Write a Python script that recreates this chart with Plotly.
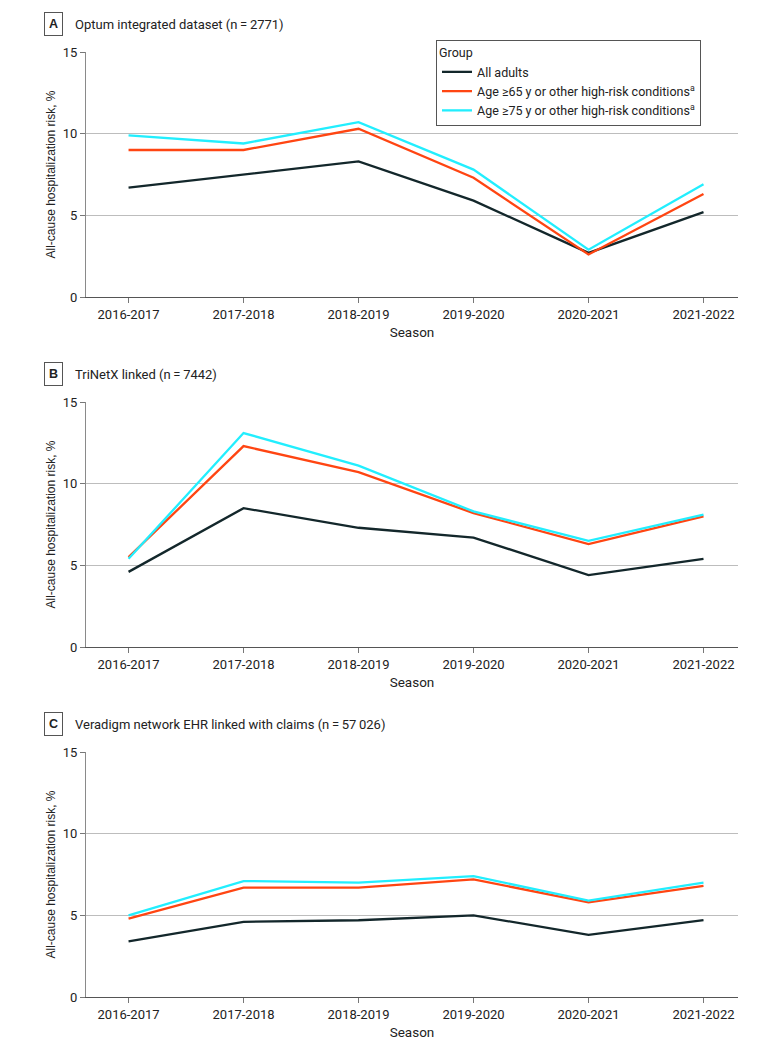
import plotly.graph_objects as go

seasons = ["2016-2017", "2017-2018", "2018-2019", "2019-2020", "2020-2021", "2021-2022"]
group_names = [
    "All adults",
    "Age ≥65 y or other high-risk conditions<sup>a</sup>",
    "Age ≥75 y or other high-risk conditions<sup>a</sup>",
]
colors = ["#13272b", "#ff4512", "#22eefe"]

panel_letters = ["A", "B", "C"]
panel_titles = [
    "Optum integrated dataset (n\u2009=\u20092771)",
    "TriNetX linked (n\u2009=\u20097442)",
    "Veradigm network EHR linked with claims (n\u2009=\u200957\u2009026)",
]

# Panel A
a_all = [6.7, 7.5, 8.3, 5.9, 2.7, 5.2]
a_65 = [9.0, 9.0, 10.3, 7.3, 2.6, 6.3]
a_75 = [9.9, 9.4, 10.7, 7.8, 2.9, 6.9]
# Panel B
b_all = [4.6, 8.5, 7.3, 6.7, 4.4, 5.4]
b_65 = [5.5, 12.3, 10.7, 8.2, 6.3, 8.0]
b_75 = [5.4, 13.1, 11.1, 8.3, 6.5, 8.1]
# Panel C
c_all = [3.4, 4.6, 4.7, 5.0, 3.8, 4.7]
c_65 = [4.8, 6.7, 6.7, 7.2, 5.8, 6.8]
c_75 = [5.0, 7.1, 7.0, 7.4, 5.9, 7.0]

yticks = [0, 5, 10, 15]

panels = [[a_all, a_65, a_75], [b_all, b_65, b_75], [c_all, c_65, c_75]]

# page has an 8px body margin: figure is laid out in page px minus 8
OFF = 8
W, H = 780 - OFF, 1052 - OFF
def px_x(v):
    return (v - OFF) / W
def px_y(v):
    return 1 - (v - OFF) / H

x_dom = [px_x(86), px_x(738)]
plot_px = [(52, 297), (402, 647), (752, 997)]

TICKFONT = "Roboto, sans-serif"
TITLEFONT = "Roboto, sans-serif"
AXTFONT = "Liberation Sans, Arial, sans-serif"
TXT = "#222222"

fig = go.Figure()
layout_axes = {}
annotations = []
for i, series in enumerate(panels):
    n = "" if i == 0 else str(i + 1)
    top, bot = plot_px[i]
    y_dom = [px_y(bot), px_y(top)]
    for k, vals in enumerate(series):
        fig.add_trace(go.Scatter(
            x=list(range(len(seasons))), y=vals, mode="lines",
            name=group_names[k], line=dict(color=colors[k], width=2.3),
            xaxis="x" + n, yaxis="y" + n, showlegend=(i == 0),
            legendgroup=str(k),
        ))
    layout_axes["xaxis" + n] = dict(
        domain=x_dom, anchor="y" + n, range=[-0.37, 5.3],
        tickmode="array", tickvals=list(range(len(seasons))), ticktext=seasons,
        showline=True, linecolor="#555555", linewidth=1.3,
        ticks="outside", ticklen=5, tickcolor="#777777", tickwidth=1,
        showgrid=False, zeroline=False,
        tickfont=dict(family=TICKFONT, size=13, color=TXT),
        title=dict(text="Season", font=dict(family=TICKFONT, size=13.5, color=TXT), standoff=6),
    )
    layout_axes["yaxis" + n] = dict(
        domain=y_dom, anchor="x" + n, range=[0, 15],
        tickmode="array", tickvals=yticks,
        showline=True, linecolor="#8a8a8a", linewidth=1.3,
        ticks="outside", ticklen=5, tickcolor="#777777", tickwidth=1,
        showgrid=True, gridcolor="#bdbdbd", gridwidth=1.2, zeroline=False,
        tickfont=dict(family=TICKFONT, size=13, color=TXT),
        title=dict(text="All-cause hospitalization risk, %", font=dict(family=AXTFONT, size=12, color=TXT), standoff=4),
    )
    title_y = px_y(top - 28)
    annotations.append(dict(
        text="<b>" + panel_letters[i] + "</b>", x=px_x(53), y=title_y, xref="paper", yref="paper",
        xanchor="center", yanchor="middle", showarrow=False,
        font=dict(family="Liberation Sans, Arial, sans-serif", size=12.5, color=TXT),
        bordercolor="#555555", borderwidth=1, borderpad=4, bgcolor="white",
    ))
    annotations.append(dict(
        text=panel_titles[i], x=px_x(73), y=title_y, xref="paper", yref="paper",
        xanchor="left", yanchor="middle", showarrow=False,
        font=dict(family=TITLEFONT, size=13, color=TXT),
    ))

fig.update_layout(
    width=W, height=H,
    margin=dict(l=0, r=0, t=0, b=0, autoexpand=False),
    paper_bgcolor="white", plot_bgcolor="white",
    showlegend=True,
    legend=dict(
        x=px_x(436), y=px_y(40), xanchor="left", yanchor="top",
        title=dict(text="Group", font=dict(family=TITLEFONT, size=12.5, color=TXT)),
        font=dict(family=TITLEFONT, size=12.5, color=TXT),
        bordercolor="#555555", borderwidth=1, bgcolor="white",
        tracegroupgap=0, itemwidth=30,
    ),
    annotations=annotations,
    **layout_axes,
)

fig.write_html("out.html")
